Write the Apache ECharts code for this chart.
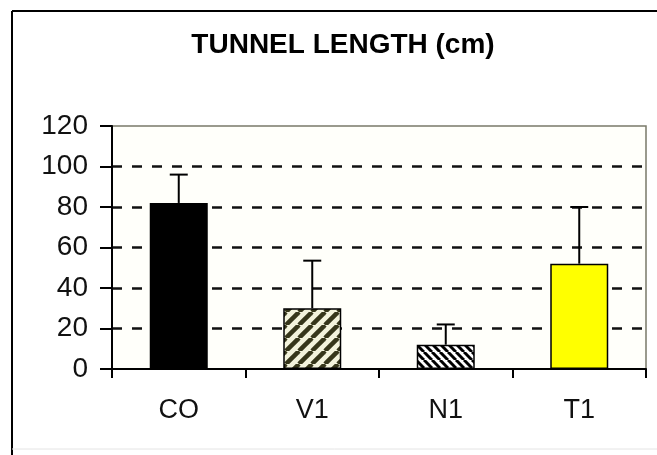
<!DOCTYPE html>
<html>
<head>
<meta charset="utf-8">
<script src="https://cdn.jsdelivr.net/npm/echarts@6/dist/echarts.min.js"></script>
<style>
html,body{margin:0;padding:0;background:#fff;}
#chart{width:657px;height:455px;}
</style>
</head>
<body>
<div id="chart"></div>
<script>
const titleText = 'TUNNEL LENGTH (cm)';
const categories = ['CO', 'V1', 'N1', 'T1'];
const means = [82, 30, 12, 52];
const errors = [14, 23.5, 10, 28];
const yTicks = { min: 0, max: 120, interval: 20 };

function stripes(size, bg, fg, width, dir) {
  const c = document.createElement('canvas');
  c.width = size; c.height = size;
  const ctx = c.getContext('2d');
  ctx.fillStyle = bg; ctx.fillRect(0, 0, size, size);
  ctx.strokeStyle = fg; ctx.lineWidth = width;
  for (let k = -1; k <= 1; k++) {
    ctx.beginPath();
    if (dir === '/') { ctx.moveTo(k * size, size); ctx.lineTo(k * size + size, 0); }
    else { ctx.moveTo(k * size, 0); ctx.lineTo(k * size + size, size); }
    ctx.stroke();
  }
  return c;
}

const fills = [
  '#000000',
  { image: stripes(13, '#f3f3dc', '#36361a', 4.5, '/'), repeat: 'repeat' },
  { image: stripes(8, '#ffffff', '#000000', 3, '\\'), repeat: 'repeat' },
  '#ffff00'
];

const font = "'Liberation Sans', Arial, sans-serif";
const chart = echarts.init(document.getElementById('chart'));
chart.setOption({
  animation: false,
  backgroundColor: '#ffffff',
  title: {
    text: titleText,
    left: 338, top: 26, textAlign: 'center',
    textStyle: { fontFamily: font, fontWeight: 'bold', fontSize: 28, color: '#000' }
  },
  graphic: [
    { type: 'line', shape: { x1: 12, y1: 11, x2: 657, y2: 11 }, style: { stroke: '#000', lineWidth: 2 } },
    { type: 'line', shape: { x1: 12, y1: 11, x2: 12, y2: 455 }, style: { stroke: '#000', lineWidth: 2 } },
    { type: 'line', shape: { x1: 12, y1: 449, x2: 657, y2: 449 }, style: { stroke: '#e4e4e4', lineWidth: 1 } }
  ],
  grid: {
    left: 112, right: 11, top: 126, bottom: 86,
    show: true, backgroundColor: '#fffffa', borderColor: '#7a7a6a', borderWidth: 1.5
  },
  xAxis: {
    type: 'category', data: categories,
    axisLine: { lineStyle: { color: '#000', width: 2 } },
    axisTick: { show: true, length: 9, lineStyle: { color: '#000', width: 2 } },
    axisLabel: { fontFamily: font, fontSize: 27, color: '#111', margin: 28 }
  },
  yAxis: {
    type: 'value', min: yTicks.min, max: yTicks.max, interval: yTicks.interval,
    axisLine: { show: true, lineStyle: { color: '#000', width: 2 } },
    axisTick: { show: true, length: 12, lineStyle: { color: '#000', width: 2 } },
    axisLabel: { fontFamily: font, fontSize: 28, color: '#111', margin: 24 },
    splitLine: {
      show: true,
      lineStyle: {
        color: ['transparent', '#111', '#111', '#111', '#111', '#111', 'transparent'],
        width: 2.5, type: [10, 10]
      }
    }
  },
  series: [
    {
      type: 'bar', barWidth: 58, z: 3,
      data: means.map((v, i) => ({
        value: v,
        itemStyle: { color: fills[i], borderColor: '#000', borderWidth: 1.5 }
      }))
    },
    {
      type: 'custom', z: 4,
      data: means.map((v, i) => [i, v, errors[i]]),
      renderItem: function (params, api) {
        const i = api.value(0), v = api.value(1), e = api.value(2);
        const p0 = api.coord([i, v]);
        const p1 = api.coord([i, v + e]);
        const st = { stroke: '#000', lineWidth: 2 };
        return {
          type: 'group',
          children: [
            { type: 'line', shape: { x1: p0[0], y1: p0[1], x2: p1[0], y2: p1[1] }, style: st },
            { type: 'line', shape: { x1: p1[0] - 9, y1: p1[1], x2: p1[0] + 9, y2: p1[1] }, style: st }
          ]
        };
      }
    }
  ]
});
</script>
</body>
</html>
